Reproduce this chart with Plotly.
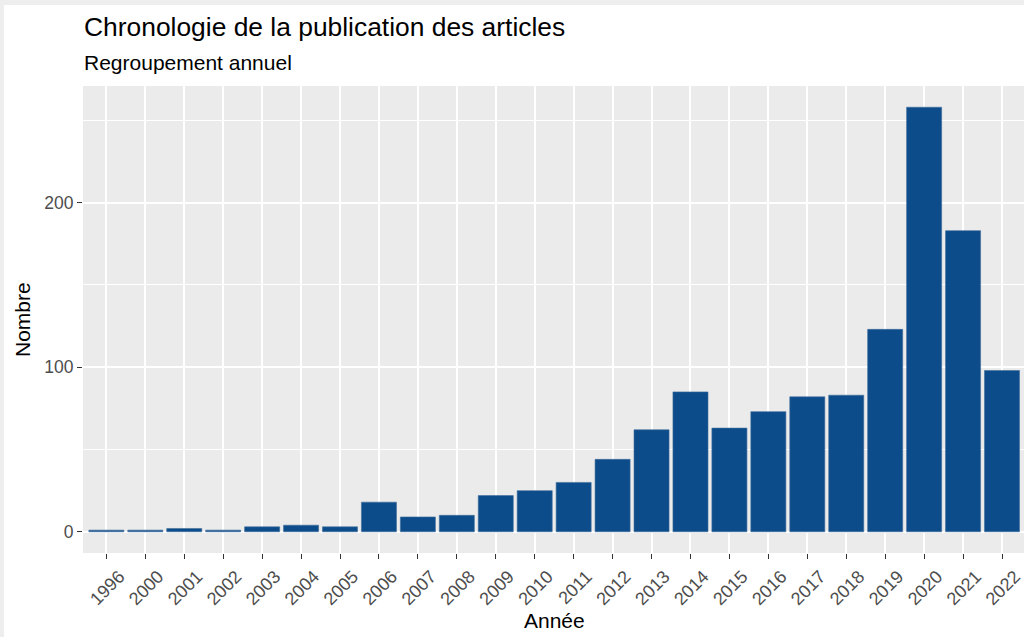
import plotly.graph_objects as go

years = ["1996", "2000", "2001", "2002", "2003", "2004", "2005", "2006", "2007", "2008",
         "2009", "2010", "2011", "2012", "2013", "2014", "2015", "2016", "2017", "2018",
         "2019", "2020", "2021", "2022"]
counts = [1, 1, 2, 1, 3, 4, 3, 18, 9, 10,
          22, 25, 30, 44, 62, 85, 63, 73, 82, 83,
          123, 258, 183, 98]

title_text = "Chronologie de la publication des articles"
subtitle_text = "Regroupement annuel"
x_title = "Année"
y_title = "Nombre"

W, H = 1024, 637
L, T, B = 83, 86, 84
pw = W - L
ph = H - T - B

def px_x(p):
    return (p - L) / pw

def px_y(p):
    return (H - B - p) / ph

FONT = "Liberation Sans, Arial, sans-serif"

fig = go.Figure(go.Bar(
    x=years, y=counts,
    marker=dict(color="#0c4c8a", line=dict(color="#3f6d9c", width=0.6)),
    hoverinfo="x+y",
))

fig.update_layout(
    width=W, height=H,
    margin=dict(l=L, r=0, t=T, b=B),
    paper_bgcolor="white",
    plot_bgcolor="#EBEBEB",
    bargap=0.1,
    showlegend=False,
    font=dict(family=FONT, color="#4D4D4D"),
)

fig.update_xaxes(
    type="category",
    range=[-0.6, 23.565],
    showgrid=True, gridcolor="white", gridwidth=1.6,
    ticks="outside", ticklen=5, tickwidth=1.4, tickcolor="#333333",
    tickangle=-45,
    ticklabelshift=13,
    tickfont=dict(size=18, color="#4D4D4D", family=FONT),
    showline=False, zeroline=False,
)
fig.update_yaxes(
    range=[-12.9, 270.9],
    tick0=0, dtick=100,
    showgrid=True, gridcolor="white", gridwidth=1.6,
    minor=dict(tick0=0, dtick=50, showgrid=True, gridcolor="white", gridwidth=0.8, ticks=""),
    ticks="outside", ticklen=5, tickwidth=1.4, tickcolor="#333333",
    tickfont=dict(size=17.5, color="#4D4D4D", family=FONT),
    showline=False, zeroline=False,
)

annotations = [
    dict(text=title_text, x=px_x(82), y=px_y(27), xref="paper", yref="paper",
         xanchor="left", yanchor="middle", showarrow=False,
         font=dict(size=26.4, color="black", family=FONT)),
    dict(text=subtitle_text, x=px_x(82), y=px_y(62), xref="paper", yref="paper",
         xanchor="left", yanchor="middle", showarrow=False,
         font=dict(size=21, color="black", family=FONT)),
    dict(text=x_title, x=px_x(554), y=px_y(620), xref="paper", yref="paper",
         xanchor="center", yanchor="middle", showarrow=False,
         font=dict(size=21, color="black", family=FONT)),
    dict(text=y_title, x=px_x(22), y=px_y(319), xref="paper", yref="paper",
         xanchor="center", yanchor="middle", showarrow=False, textangle=-90,
         font=dict(size=21, color="black", family=FONT)),
]
fig.update_layout(annotations=annotations)

# light grey frame at top and left of the picture
fig.add_shape(type="rect", xref="paper", yref="paper",
              x0=px_x(0), x1=px_x(W), y0=px_y(5), y1=px_y(0),
              fillcolor="#EEEEEE", line=dict(width=0), layer="above")
fig.add_shape(type="rect", xref="paper", yref="paper",
              x0=px_x(0), x1=px_x(4), y0=px_y(H), y1=px_y(0),
              fillcolor="#EEEEEE", line=dict(width=0), layer="above")

fig.write_html(
    "out.html",
    config={"displayModeBar": False},
    post_script="document.body.style.margin='0';document.body.style.padding='0';document.body.style.overflow='hidden';",
)
